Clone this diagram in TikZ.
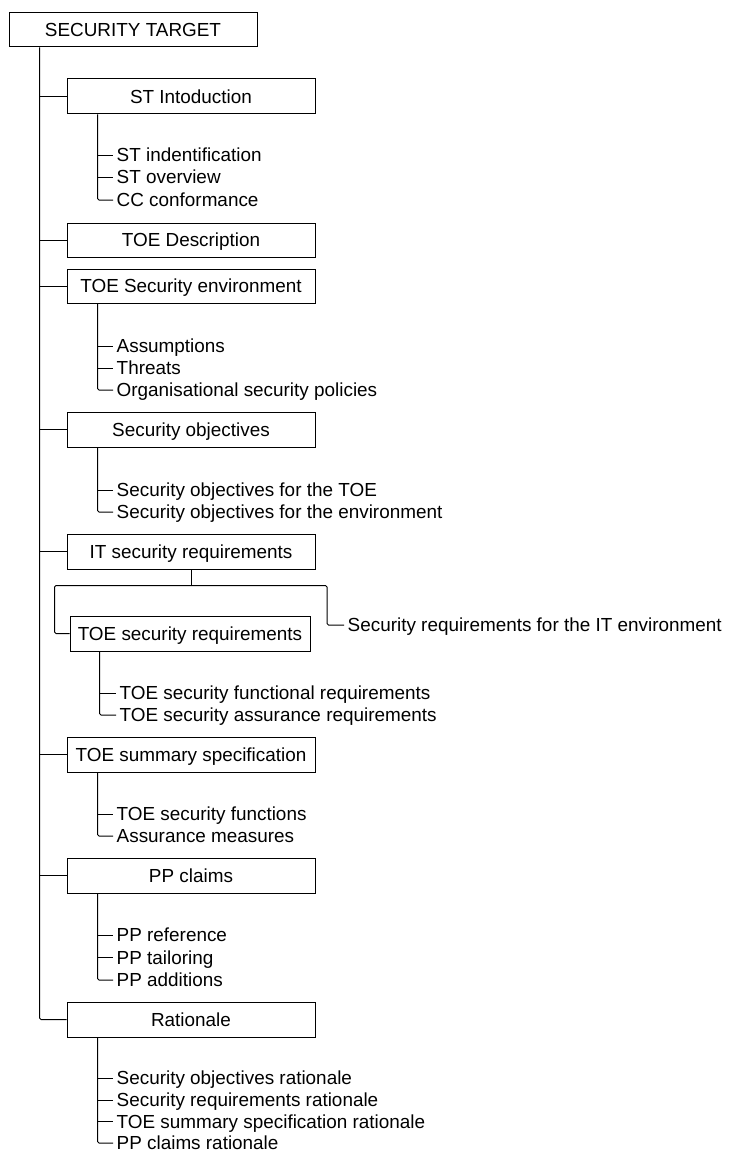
\documentclass[tikz,border=0pt]{standalone}
\usepackage{fontspec}
\setmainfont{Liberation Sans}
\begin{document}
\begin{tikzpicture}[x=1pt,y=-1pt,
  every node/.style={font=\fontsize{18.9}{22}\selectfont, text height=16pt, text depth=2.4pt},
  box/.style={draw, line width=1pt, minimum width=248pt, minimum height=35pt, inner sep=0pt, anchor=center},
  item/.style={anchor=west, inner xsep=3.5pt, inner ysep=0pt},
  conn/.style={line width=1pt, rounded corners=1.5pt}]
\useasboundingbox (0,0) rectangle (728,1153);

% boxes
\node[box, minimum height=34pt] (st) at (133,30) {SECURITY TARGET};
\node[box] (si) at (191,96.5) {ST Intoduction};
\node[box, minimum height=34pt] (td) at (191,240) {TOE Description};
\node[box, minimum height=34pt] (se) at (191,286) {TOE Security environment};
\node[box] (so) at (191,429.5) {Security objectives};
\node[box] (it) at (191,551.5) {IT security requirements};
\node[box, minimum width=240pt] (tsr) at (190,633.5) {TOE security requirements};
\node[box] (ss) at (191,754.5) {TOE summary specification};
\node[box] (pp) at (191,875.5) {PP claims};
\node[box] (ra) at (191,1019.5) {Rationale};

% items
\node[item] (si1) at (113,155) {ST indentification};
\node[item] (si2) at (113,177) {ST overview};
\node[item] (si3) at (113,200) {CC conformance};

\node[item] (se1) at (113,346) {Assumptions};
\node[item] (se2) at (113,368) {Threats};
\node[item] (se3) at (113,390) {Organisational security policies};

\node[item] (so1) at (113,490) {Security objectives for the TOE};
\node[item] (so2) at (113,512) {Security objectives for the environment};

\node[item] (env) at (344,625) {Security requirements for the IT environment};

\node[item] (tsr1) at (116,693) {TOE security functional requirements};
\node[item] (tsr2) at (116,715) {TOE security assurance requirements};

\node[item] (ss1) at (113,814) {TOE security functions};
\node[item] (ss2) at (113,836) {Assurance measures};

\node[item] (pp1) at (113,935) {PP reference};
\node[item] (pp2) at (113,957.5) {PP tailoring};
\node[item] (pp3) at (113,980) {PP additions};

\node[item] (ra1) at (113,1078) {Security objectives rationale};
\node[item] (ra2) at (113,1100) {Security requirements rationale};
\node[item] (ra3) at (113,1121.5) {TOE summary specification rationale};
\node[item] (ra4) at (113,1143) {PP claims rationale};

% trunk
\coordinate (trunk) at ([xshift=31pt]st.south west);
\draw[conn] (trunk) |- (ra.west);
\foreach \b in {si,td,se,so,it,ss,pp}
  \draw[conn] (trunk |- \b.west) -- (\b.west);

% branches of boxes
\coordinate (sib) at ([xshift=31pt]si.south west);
\draw[conn] (sib) |- (si3.west);
\draw[conn] (sib |- si1.west) -- (si1.west);
\draw[conn] (sib |- si2.west) -- (si2.west);

\coordinate (seb) at ([xshift=31pt]se.south west);
\draw[conn] (seb) |- (se3.west);
\draw[conn] (seb |- se1.west) -- (se1.west);
\draw[conn] (seb |- se2.west) -- (se2.west);

\coordinate (sob) at ([xshift=31pt]so.south west);
\draw[conn] (sob) |- (so2.west);
\draw[conn] (sob |- so1.west) -- (so1.west);

\coordinate (split) at ([yshift=-16pt]it.south);
\draw[conn] (it.south) -- (split);
\draw[conn] (split) -| ([xshift=-15pt]tsr.west) -- (tsr.west);
\draw[conn] (split) -| ([xshift=-17pt]env.west) -- (env.west);

\coordinate (tsrb) at ([xshift=30pt]tsr.south west);
\draw[conn] (tsrb) |- (tsr2.west);
\draw[conn] (tsrb |- tsr1.west) -- (tsr1.west);

\coordinate (ssb) at ([xshift=31pt]ss.south west);
\draw[conn] (ssb) |- (ss2.west);
\draw[conn] (ssb |- ss1.west) -- (ss1.west);

\coordinate (ppb) at ([xshift=31pt]pp.south west);
\draw[conn] (ppb) |- (pp3.west);
\draw[conn] (ppb |- pp1.west) -- (pp1.west);
\draw[conn] (ppb |- pp2.west) -- (pp2.west);

\coordinate (rab) at ([xshift=31pt]ra.south west);
\draw[conn] (rab) |- (ra4.west);
\draw[conn] (rab |- ra1.west) -- (ra1.west);
\draw[conn] (rab |- ra2.west) -- (ra2.west);
\draw[conn] (rab |- ra3.west) -- (ra3.west);
\end{tikzpicture}
\end{document}
